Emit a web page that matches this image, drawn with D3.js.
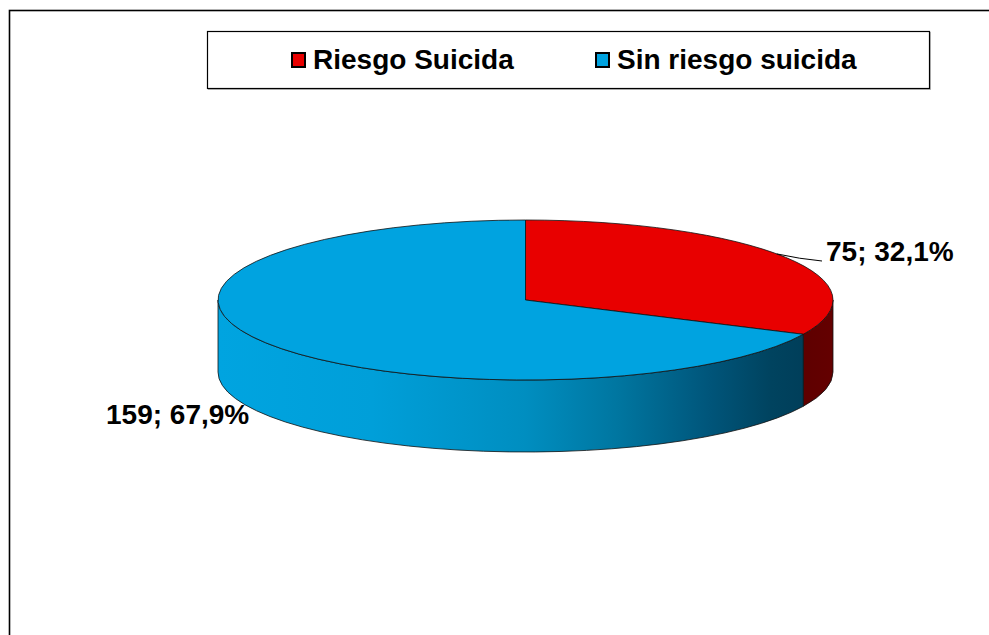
<!DOCTYPE html>
<html><head><meta charset="utf-8">
<script src="https://cdn.jsdelivr.net/npm/d3@7"></script>
<style>body{margin:0;background:#fff}svg{display:block}</style>
</head><body>
<script>
const categories = ["Riesgo Suicida", "Sin riesgo suicida"];
const values = [75, 159];
const topColors = ["#E80000", "#00A3E0"];

const W = 989, H = 635;
const cx = 525.5, cy = 300, rx = 307.5, ry = 80, depth = 72;

const svg = d3.select("body").append("svg").attr("width", W).attr("height", H);
const defs = svg.append("defs");
const gb = defs.append("linearGradient").attr("id","sideBlue").attr("gradientUnits","userSpaceOnUse")
  .attr("x1", cx - rx).attr("x2", cx + rx).attr("y1", 0).attr("y2", 0);
[[0,"#00A4E0"],[0.25,"#009FD9"],[0.5,"#008EC0"],[0.65,"#0076A0"],[0.8,"#00557A"],[0.9,"#00435F"],[1,"#003A55"]]
  .forEach(([o,c]) => gb.append("stop").attr("offset", o).attr("stop-color", c));
const gr = defs.append("linearGradient").attr("id","sideRed").attr("gradientUnits","userSpaceOnUse")
  .attr("x1", cx + rx*0.9).attr("x2", cx + rx).attr("y1", 0).attr("y2", 0);
[[0,"#5E0000"],[1,"#640000"]].forEach(([o,c]) => gr.append("stop").attr("offset", o).attr("stop-color", c));
const sideFills = ["url(#sideRed)", "url(#sideBlue)"];

// outer frame
svg.append("rect").attr("x", 9.5).attr("y", 10.5).attr("width", W + 20).attr("height", H + 20)
  .attr("fill", "none").attr("stroke", "#000").attr("stroke-width", 1.6);

const pie = d3.pie().sort(null).value(d => d)(values);
const pt = (a, dy = 0) => [cx + rx * Math.sin(a), cy - ry * Math.cos(a) + dy];

const g = svg.append("g");
// sides (front half: angle in [PI/2, 3PI/2])
pie.forEach((s, i) => {
  const a0 = Math.max(s.startAngle, Math.PI / 2), a1 = Math.min(s.endAngle, 3 * Math.PI / 2);
  if (a1 <= a0) return;
  const p0 = pt(a0), p1 = pt(a1), q1 = pt(a1, depth), q0 = pt(a0, depth);
  const path = `M${p0}A${rx},${ry} 0 0 1 ${p1}L${q1}A${rx},${ry} 0 0 0 ${q0}Z`;
  g.append("path").attr("d", path).attr("fill", sideFills[i]).attr("stroke", "#111").attr("stroke-width", 0.8);
});
// tops
pie.forEach((s, i) => {
  const p0 = pt(s.startAngle), p1 = pt(s.endAngle);
  const large = (s.endAngle - s.startAngle) > Math.PI ? 1 : 0;
  const path = `M${cx},${cy}L${p0}A${rx},${ry} 0 ${large} 1 ${p1}Z`;
  g.append("path").attr("d", path).attr("fill", topColors[i]).attr("stroke", "#111").attr("stroke-width", 0.8);
});

// labels
const total = d3.sum(values);
const fmt = v => v + "; " + d3.format(".1f")(v / total * 100).replace(".", ",") + "%";
const font = "'Liberation Sans', Arial, sans-serif";
// red label + leader
const midR = (pie[0].startAngle + pie[0].endAngle) / 2;
const lp = pt(midR * 0.95);
svg.append("path").attr("d", `M${lp[0]},${lp[1]}Q800,259 822,261`).attr("fill","none").attr("stroke","#000").attr("stroke-width",1);
svg.append("text").attr("x", 826).attr("y", 261).attr("font-family", font).attr("font-weight","bold")
  .attr("font-size", 28).attr("fill","#000").text(fmt(values[0]));
svg.append("text").attr("x", 106).attr("y", 424).attr("font-family", font).attr("font-weight","bold")
  .attr("font-size", 28).attr("fill","#000").text(fmt(values[1]));

// legend
const lg = svg.append("g");
lg.append("rect").attr("x", 208).attr("y", 32).attr("width", 723).attr("height", 58).attr("fill", "#bbb");
lg.append("rect").attr("x", 207.5).attr("y", 31.5).attr("width", 722).attr("height", 57)
  .attr("fill", "#fff").attr("stroke", "#000").attr("stroke-width", 1.2);
const legX = [292, 596];
categories.forEach((c, i) => {
  lg.append("rect").attr("x", legX[i]).attr("y", 53).attr("width", 13).attr("height", 14)
    .attr("fill", topColors[i]).attr("stroke", "#000").attr("stroke-width", 2);
  lg.append("text").attr("x", legX[i] + 21).attr("y", 68.5).attr("font-family", font).attr("font-weight", "bold")
    .attr("font-size", 28).attr("fill", "#000").text(c);
});
</script>
</body></html>
